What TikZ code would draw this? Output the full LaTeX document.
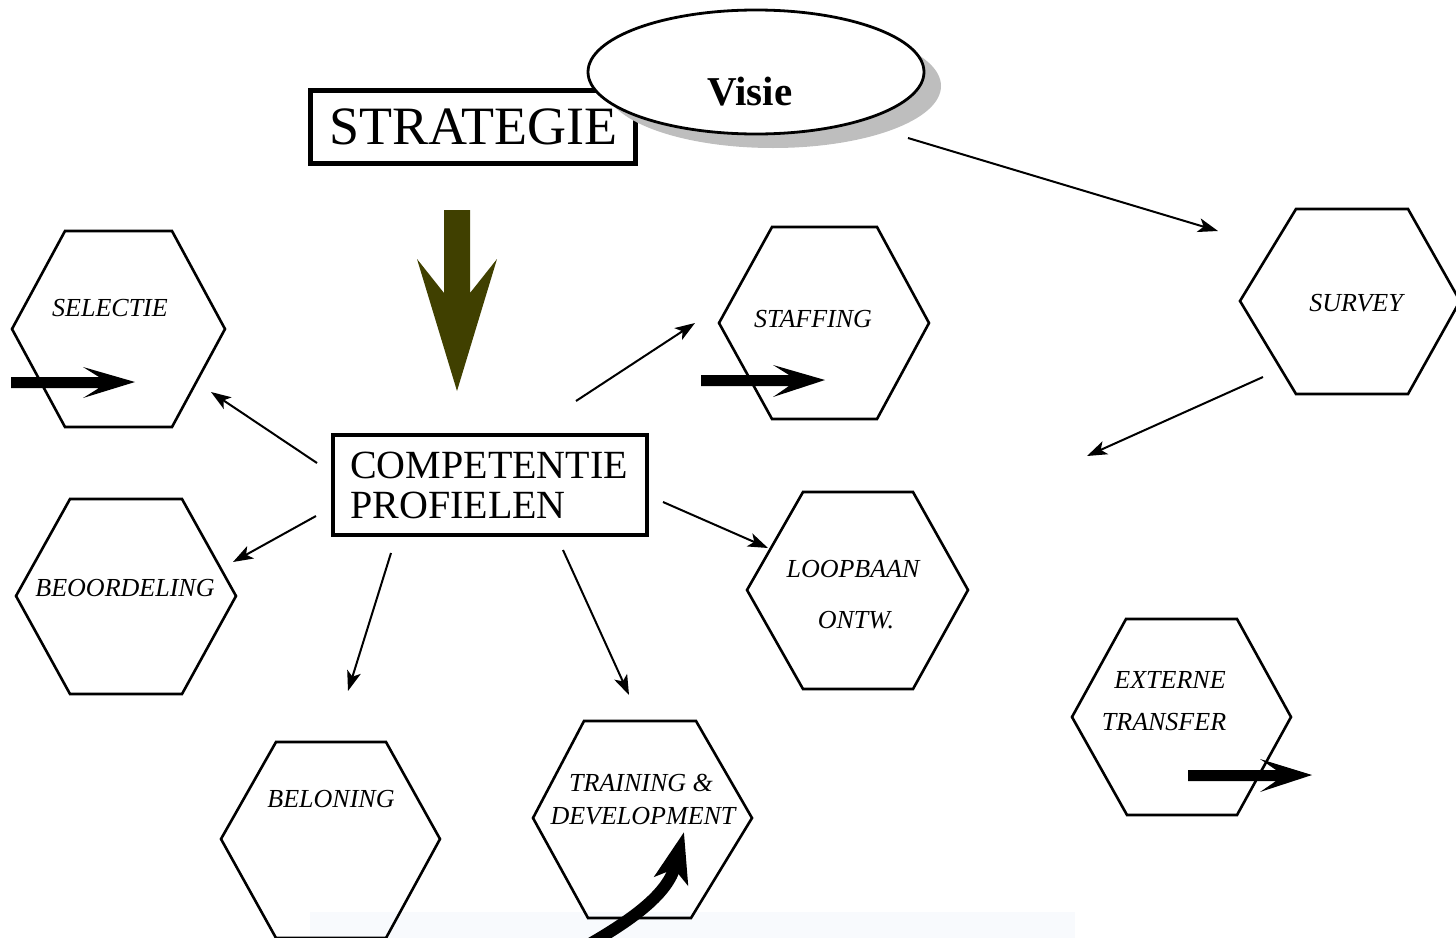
\documentclass[tikz,border=0pt]{standalone}
\usepackage{fontspec}
\setmainfont{Liberation Serif}
\usetikzlibrary{arrows.meta,shapes.geometric}
\definecolor{olivearrow}{RGB}{64,64,0}
\definecolor{faintstrip}{RGB}{248,250,253}
\definecolor{shadowgray}{RGB}{190,190,190}
\begin{document}
\begin{tikzpicture}[x=1pt,y=-1pt,
  hexa/.style={draw=black,line width=2.6pt,line join=miter},
  hlabel/.style={font=\fontsize{26}{30}\selectfont\itshape,anchor=base,inner sep=0pt},
  conn/.style={draw=black,line width=2pt,-{Stealth[length=20pt,width=14pt,inset=5pt]}},
  blockarrow/.style={fill=black},
  boxstyle/.style={draw=black,fill=white,inner sep=0pt}]
\useasboundingbox (0,0) rectangle (1456,937);
\clip (0,0) rectangle (1456,937);

% faint strip at the bottom
\fill[faintstrip] (310,912) rectangle (1075,940);

% STRATEGIE box
\node (strat) [boxstyle,line width=5pt,minimum width=325pt,minimum height=73pt,
  font=\fontsize{54}{60}\selectfont] at (473,127) {STRATEGIE};

% Visie ellipse with shadow
\fill[shadowgray] (773,86) ellipse [x radius=168, y radius=62];
\node (visie) [ellipse,draw=black,fill=white,line width=2.8pt,inner sep=0pt,
  minimum width=336pt,minimum height=124pt] at (756,72) {};
\node (visielabel) [font=\fontsize{41}{46}\selectfont\bfseries,anchor=base,inner sep=0pt] at (750,105) {Visie};

% big olive arrow
\fill[olivearrow] (444,210) -- (470,210) -- (470,293) -- (497,259) -- (457,391)
  -- (417,259) -- (444,293) -- cycle;

% COMPETENTIE PROFIELEN box
\node (comp) [boxstyle,line width=4.5pt,minimum width=314pt,minimum height=100pt] at (490,485) {};
\node (comp1) [font=\fontsize{40}{44}\selectfont,anchor=base west,inner sep=0pt] at (350,478) {COMPETENTIE};
\node (comp2) [font=\fontsize{40}{44}\selectfont,anchor=base west,inner sep=0pt] at (350,518) {PROFIELEN};

% hexagons
\draw[hexa] (12,329) -- (65,231) -- (172,231) -- (225,329) -- (172,427) -- (65,427) -- cycle;
\draw[hexa] (16,596) -- (70,499) -- (182,499) -- (236,596) -- (182,694) -- (70,694) -- cycle;
\draw[hexa] (221,839) -- (276,742) -- (386,742) -- (440,839) -- (386,938) -- (276,938) -- cycle;
\draw[hexa] (533,818) -- (584,721) -- (696,721) -- (752,818) -- (691,918) -- (588,918) -- cycle;
\draw[hexa] (747,590) -- (803,492) -- (913,492) -- (968,590) -- (913,689) -- (803,689) -- cycle;
\draw[hexa] (719,323) -- (772,227) -- (877,227) -- (929,323) -- (877,419) -- (772,419) -- cycle;
\draw[hexa] (1240,301) -- (1296,209) -- (1408,209) -- (1460,301) -- (1408,394) -- (1296,394) -- cycle;
\draw[hexa] (1072,717) -- (1126,619) -- (1237,619) -- (1291,717) -- (1237,815) -- (1127,815) -- cycle;

% hexagon labels
\node[hlabel] (tsel) at (110,316) {SELECTIE};
\node[hlabel] (tbeo) at (125,596) {BEOORDELING};
\node[hlabel] (tbel) at (331,807) {BELONING};
\node[hlabel] (ttr1) at (641,791) {TRAINING \&};
\node[hlabel] (ttr2) at (643,824) {DEVELOPMENT};
\node[hlabel] (tsta) at (813,327) {STAFFING};
\node[hlabel] (tlo1) at (853,577) {LOOPBAAN};
\node[hlabel] (tlo2) at (856,628) {ONTW.};
\node[hlabel] (tsur) at (1356,311) {SURVEY};
\node[hlabel] (tex1) at (1170,688) {EXTERNE};
\node[hlabel] (tex2) at (1164,730) {TRANSFER};

% connector end points
\coordinate (cSelS) at (317,463);  \coordinate (cSelE) at (211,392);
\coordinate (cBeoS) at (316,516);  \coordinate (cBeoE) at (233,562);
\coordinate (cBelS) at (391,553);  \coordinate (cBelE) at (348,691);
\coordinate (cTrS)  at (563,550);  \coordinate (cTrE)  at (629,695);
\coordinate (cLoS)  at (663,502);  \coordinate (cLoE)  at (768,548);
\coordinate (cStS)  at (576,401);  \coordinate (cStE)  at (695,323);
\coordinate (cViS)  at (908,138);  \coordinate (cViE)  at (1218,231);
\coordinate (cSuS)  at (1263,377); \coordinate (cSuE)  at (1087,456);

\draw[conn] (cSelS) -- (cSelE);
\draw[conn] (cBeoS) -- (cBeoE);
\draw[conn] (cBelS) -- (cBelE);
\draw[conn] (cTrS) -- (cTrE);
\draw[conn] (cLoS) -- (cLoE);
\draw[conn] (cStS) -- (cStE);
\draw[conn] (cViS) -- (cViE);
\draw[conn] (cSuS) -- (cSuE);

% thick block arrows
\fill[blockarrow] (11,377) -- (99,377) -- (83,367) -- (135,382) -- (83,398) -- (99,388) -- (11,388) -- cycle;
\fill[blockarrow] (701,375) -- (789,375) -- (773,365) -- (825,380) -- (773,397) -- (789,386) -- (701,386) -- cycle;
\fill[blockarrow] (1188,770) -- (1276,770) -- (1260,759) -- (1312,775) -- (1260,792) -- (1276,781) -- (1188,781) -- cycle;

% curved arrow in training hexagon
\draw[line width=12pt,-{Stealth[length=50pt,width=34pt,inset=12pt]}]
  (588,945) .. controls (635,918) and (668,893) .. (684,832);
\end{tikzpicture}
\end{document}
